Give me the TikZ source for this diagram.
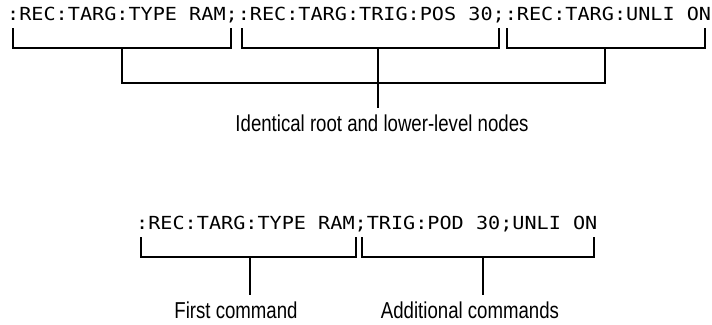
\documentclass[tikz,border=0pt]{standalone}
\usepackage{fontspec}
\newfontfamily\cmdfont[FakeStretch=1.12]{DejaVu Sans Mono}
\newfontfamily\labfont[FakeStretch=0.81]{Liberation Sans}
\tikzset{
  cmd/.style={inner sep=0pt, anchor=base west, font=\cmdfont\fontsize{18}{20}\selectfont},
  lab/.style={inner sep=0pt, anchor=base, font=\labfont\fontsize{23}{25}\selectfont},
  brk/.style={line width=1.8pt, line cap=butt, line join=miter},
}
\begin{document}
\begin{tikzpicture}[x=1pt,y=-1pt]
\useasboundingbox (0,0) rectangle (712,324);
% ---------- top example ----------
\node[cmd] (top) at (7,20) {:REC:TARG:TYPE RAM;:REC:TARG:TRIG:POS 30;:REC:TARG:UNLI ON};
\coordinate (a1l) at (13,28);  \coordinate (a1r) at (231,28);
\coordinate (a2l) at (242,28); \coordinate (a2r) at (499,28);
\coordinate (a3l) at (507,28); \coordinate (a3r) at (705,28);
\coordinate (s1) at (122,48); \coordinate (s2) at (378,48); \coordinate (s3) at (605,48);
\coordinate (j1) at (122,83); \coordinate (j3) at (605,83);
\coordinate (e2) at (378,108);
\draw[brk] (a1l) |- (a1r |- s1) -- (a1r);
\draw[brk] (a2l) |- (a2r |- s2) -- (a2r);
\draw[brk] (a3l) |- (a3r |- s3) -- (a3r);
\draw[brk] (s1) -- (j1) -- (j3) -- (s3);
\draw[brk] (s2) -- (e2);
\node[lab] (toplab) at (382,131) {Identical root and lower-level nodes};
% ---------- bottom example ----------
\node[cmd] (bot) at (136,229.5) {:REC:TARG:TYPE RAM;TRIG:POD 30;UNLI ON};
\coordinate (b1l) at (141,237); \coordinate (b1r) at (356,237);
\coordinate (b2l) at (362,237); \coordinate (b2r) at (594,237);
\coordinate (t1) at (250,257); \coordinate (t2) at (483,257);
\coordinate (f1) at (250,295); \coordinate (f2) at (483,295);
\draw[brk] (b1l) |- (b1r |- t1) -- (b1r);
\draw[brk] (b2l) |- (b2r |- t2) -- (b2r);
\draw[brk] (t1) -- (f1);
\draw[brk] (t2) -- (f2);
\node[lab] (first) at (236,318) {First command};
\node[lab] (addl) at (470,318) {Additional commands};
\end{tikzpicture}
\end{document}
